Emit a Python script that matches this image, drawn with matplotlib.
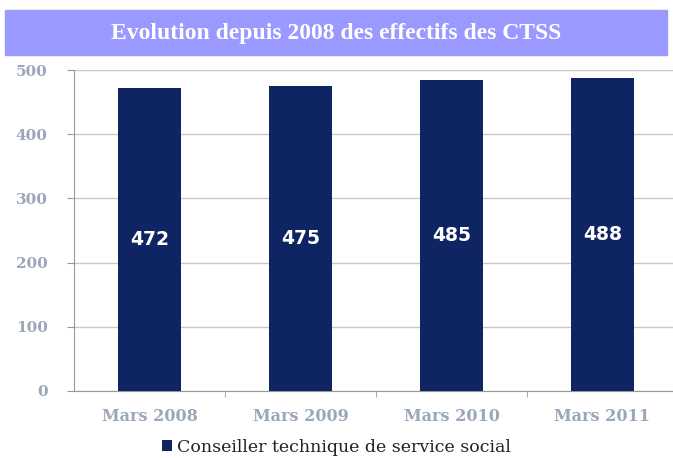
import matplotlib.pyplot as plt
from matplotlib.patches import Rectangle

# Donnees
categories = ['Mars 2008', 'Mars 2009', 'Mars 2010', 'Mars 2011']
effectifs = [472, 475, 485, 488]
yticks = [0, 100, 200, 300, 400, 500]
titre = 'Evolution depuis 2008 des effectifs des CTSS'
serie = 'Conseiller technique de service social'

bar_color = '#0f2462'
tick_color = '#9aa6ba'

fig = plt.figure(figsize=(6.73, 4.58), dpi=100)

# Bandeau du titre
fig.patches.append(Rectangle((5 / 673, 1 - 55 / 458), 662 / 673, 45 / 458,
                             transform=fig.transFigure, color='#9999ff', zorder=0))
fig.text(0.5, 1 - 33 / 458, titre, ha='center', va='center', color='white',
         fontsize=17, fontweight='bold', family='Liberation Serif')

# le cadre depasse a droite (coupe dans l'original)
ax = fig.add_axes([74 / 673, 1 - 391 / 458, 604 / 673, 321 / 458])
x = range(len(categories))
bars = ax.bar(x, effectifs, width=0.42, color=bar_color, zorder=3)
for xi, v in zip(x, effectifs):
    ax.text(xi, v / 2, str(v), ha='center', va='center', color='white',
            fontsize=13.5, fontweight='bold', family='DejaVu Sans', zorder=4)

ax.set_xlim(-0.5, len(categories) - 0.5)
ax.set_ylim(0, 500)
ax.set_yticks(yticks)
ax.set_yticklabels([str(t) for t in yticks], family='DejaVu Serif',
                   fontweight='bold', fontsize=11, color=tick_color)
ax.set_xticks(list(x))
ax.set_xticklabels(categories, family='DejaVu Serif', fontweight='bold',
                   fontsize=11.5, color=tick_color)
ax.tick_params(axis='x', length=0, pad=12)
ax.tick_params(axis='y', length=5, color='#999999', pad=14)
# petits traits entre categories
ax.set_xticks([i + 0.5 for i in range(len(categories) - 1)], minor=True)
ax.tick_params(axis='x', which='minor', length=4, color='#999999')

ax.grid(axis='y', color='#c8c8c8', linewidth=1, zorder=0)
for side in ['top', 'right']:
    ax.spines[side].set_visible(False)
ax.spines['left'].set_color('#999999')
ax.spines['bottom'].set_color('#999999')

leg = fig.legend([bars], [serie], loc='center left',
                 bbox_to_anchor=(162 / 673, 1 - 447 / 458),
                 frameon=False, handlelength=0.6, handleheight=0.6,
                 handletextpad=0.25, borderpad=0, borderaxespad=0,
                 prop={'family': 'DejaVu Serif', 'size': 12.5})
for t in leg.get_texts():
    t.set_color('#222222')

fig.savefig('out.png', dpi=100)
